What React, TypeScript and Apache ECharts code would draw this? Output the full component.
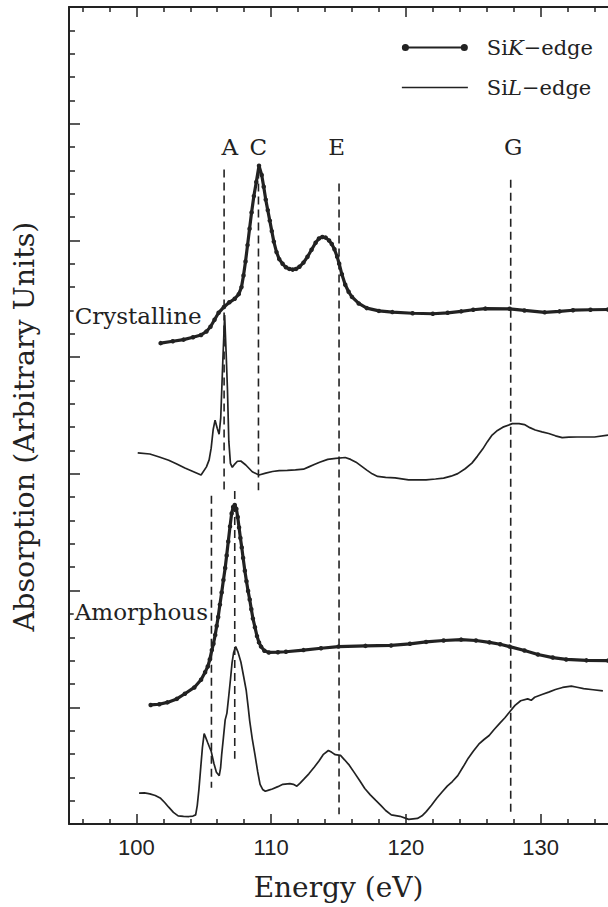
import React, { useEffect, useRef } from 'react';
import * as echarts from 'echarts';

// ---- data (energy in eV, absorption in arbitrary offset units) ----
const crystallineK: [number, number][] = [
  [101.8, 20.6], [102.7, 20.68], [103.5, 20.75], [104.2, 20.85], [104.8, 20.95], [105.2, 21.1], [105.5, 21.3],
  [105.8, 21.6], [106.1, 21.9], [106.5, 22.15], [106.9, 22.35], [107.3, 22.5], [107.6, 22.7], [107.8, 23.0],
  [107.95, 23.5], [108.1, 24.1], [108.25, 24.8], [108.4, 25.5], [108.55, 26.2], [108.72, 26.9], [108.9, 27.5],
  [109.1, 28.2], [109.3, 27.8], [109.45, 27.3], [109.6, 26.75], [109.75, 26.3], [109.9, 25.85], [110.05, 25.4],
  [110.2, 24.95], [110.4, 24.5], [110.6, 24.2], [110.85, 24.0], [111.1, 23.85], [111.35, 23.78], [111.6, 23.75],
  [111.85, 23.78], [112.1, 23.87], [112.4, 24.05], [112.7, 24.3], [113.0, 24.6], [113.3, 24.9], [113.55, 25.08],
  [113.8, 25.15], [114.05, 25.12], [114.3, 25.0], [114.5, 24.85], [114.7, 24.62], [114.9, 24.3], [115.05, 24.0],
  [115.25, 23.55], [115.5, 23.1], [115.75, 22.8], [116.0, 22.58], [116.5, 22.3], [117.1, 22.1], [118.0, 21.98],
  [119.0, 21.93], [120.5, 21.88], [122.0, 21.86], [123.1, 21.9], [124.1, 21.96], [125.0, 22.03], [125.9, 22.08],
  [127.7, 22.07], [128.8, 22.0], [130.3, 21.92], [131.4, 21.96], [132.4, 22.01], [133.7, 22.03], [135.0, 22.04]
];

const crystallineL: [number, number][] = [
  [100.1, 15.9], [101.0, 15.85], [101.7, 15.72], [102.4, 15.58], [103.0, 15.42], [103.6, 15.25], [104.2, 15.1],
  [104.8, 14.95], [105.2, 15.3], [105.4, 15.6], [105.55, 16.1], [105.7, 16.9], [105.84, 17.3], [106.0, 16.95],
  [106.14, 16.7], [106.26, 17.4], [106.4, 19.6], [106.55, 21.8], [106.66, 20.2], [106.76, 18.6], [106.86, 16.4],
  [106.98, 15.45], [107.12, 15.28], [107.3, 15.42], [107.5, 15.54], [107.75, 15.55], [108.12, 15.38],
  [108.6, 15.09], [109.1, 14.95], [109.6, 15.03], [110.1, 15.1], [110.6, 15.14], [111.2, 15.15], [111.8, 15.17],
  [112.4, 15.2], [112.8, 15.3], [113.2, 15.4], [113.6, 15.5], [114.2, 15.62], [114.8, 15.66], [115.5, 15.7],
  [115.9, 15.62], [116.3, 15.5], [116.7, 15.33], [117.1, 15.16], [117.5, 15.0], [117.9, 14.89], [118.5, 14.85],
  [119.2, 14.83], [120.2, 14.74], [121.5, 14.74], [122.2, 14.78], [122.8, 14.82], [123.35, 14.9],
  [123.85, 15.01], [124.4, 15.22], [124.9, 15.46], [125.3, 15.75], [125.7, 16.06], [126.05, 16.38],
  [126.4, 16.66], [126.8, 16.86], [127.2, 17.0], [127.9, 17.15], [128.4, 17.15], [128.8, 17.11], [129.2, 16.98],
  [129.6, 16.88], [130.1, 16.8], [130.6, 16.73], [131.1, 16.63], [131.6, 16.55], [132.1, 16.57], [132.7, 16.58],
  [133.3, 16.58], [134.0, 16.58], [135.0, 16.66]
];

const amorphousK: [number, number][] = [
  [101.06, 5.1], [101.7, 5.13], [102.3, 5.21], [103.0, 5.36], [103.6, 5.58], [104.3, 5.85], [104.8, 6.18],
  [105.1, 6.5], [105.3, 6.75], [105.45, 7.05], [105.6, 7.45], [105.72, 7.72], [105.85, 8.1], [105.96, 8.48],
  [106.07, 8.87], [106.2, 9.4], [106.33, 9.92], [106.46, 10.45], [106.59, 10.97], [106.7, 11.5], [106.82, 12.1],
  [106.95, 12.75], [107.07, 13.3], [107.18, 13.58], [107.3, 13.67], [107.42, 13.5], [107.52, 13.15],
  [107.62, 12.7], [107.72, 12.25], [107.82, 11.85], [107.92, 11.4], [108.05, 10.85], [108.17, 10.4],
  [108.29, 9.98], [108.41, 9.62], [108.53, 9.2], [108.65, 8.8], [108.8, 8.43], [108.95, 8.05], [109.1, 7.78],
  [109.25, 7.6], [109.5, 7.42], [109.83, 7.35], [110.5, 7.36], [111.1, 7.38], [112.4, 7.45], [113.7, 7.53],
  [115.0, 7.6], [117.0, 7.63], [118.9, 7.65], [120.3, 7.72], [121.5, 7.8], [122.8, 7.86], [124.1, 7.9],
  [125.2, 7.86], [126.2, 7.78], [127.0, 7.7], [127.7, 7.6], [128.8, 7.43], [129.8, 7.26], [130.9, 7.13],
  [131.9, 7.05], [133.4, 7.01], [135.0, 7.0]
];

const amorphousL: [number, number][] = [
  [100.2, 1.32], [100.6, 1.33], [101.0, 1.29], [101.4, 1.22], [101.8, 1.1], [102.1, 0.92], [102.4, 0.72],
  [102.75, 0.5], [103.1, 0.35], [103.5, 0.33], [103.9, 0.32], [104.2, 0.34], [104.4, 0.39], [104.52, 0.8],
  [104.64, 1.47], [104.78, 2.45], [104.9, 3.27], [105.03, 3.87], [105.15, 3.7], [105.29, 3.49], [105.42, 3.3],
  [105.55, 3.12], [105.75, 2.6], [105.94, 2.22], [106.15, 2.07], [106.25, 2.4], [106.33, 2.97], [106.46, 3.7],
  [106.59, 4.46], [106.72, 4.75], [106.85, 5.45], [106.98, 6.18], [107.1, 6.9], [107.22, 7.35], [107.37, 7.6],
  [107.55, 7.35], [107.76, 6.93], [107.95, 6.35], [108.15, 5.73], [108.3, 5.0], [108.41, 4.42], [108.6, 3.65],
  [108.8, 2.97], [109.0, 2.25], [109.18, 1.7], [109.37, 1.48], [109.57, 1.4], [109.82, 1.45], [110.09, 1.5],
  [110.5, 1.6], [110.87, 1.7], [111.39, 1.73], [111.65, 1.7], [111.91, 1.62], [112.15, 1.75], [112.43, 1.92],
  [112.8, 2.15], [113.21, 2.44], [113.55, 2.7], [113.86, 2.97], [114.25, 3.15], [114.5, 3.07], [114.76, 2.97],
  [115.15, 2.94], [115.45, 2.75], [115.8, 2.52], [116.2, 2.18], [116.58, 1.85], [116.95, 1.52], [117.36, 1.25],
  [117.75, 1.02], [118.14, 0.8], [118.5, 0.58], [118.92, 0.39], [119.56, 0.33], [120.21, 0.2], [120.86, 0.24],
  [121.2, 0.35], [121.51, 0.53], [121.9, 0.8], [122.29, 1.1], [122.7, 1.38], [123.07, 1.62], [123.45, 1.82],
  [123.85, 2.07], [124.25, 2.45], [124.63, 2.82], [125.0, 3.12], [125.41, 3.42], [125.8, 3.62], [126.18, 3.79],
  [126.55, 4.05], [126.96, 4.31], [127.35, 4.55], [127.74, 4.83], [128.1, 5.08], [128.52, 5.28], [129.04, 5.36],
  [129.3, 5.3], [129.56, 5.43], [130.1, 5.55], [130.6, 5.65], [131.1, 5.76], [131.63, 5.85], [132.28, 5.91],
  [132.7, 5.86], [133.19, 5.8], [133.9, 5.75], [134.62, 5.7]
];

// dashed guide lines: energy, upper end, lower end
const guideEnergies = [106.51, 109.06, 115.04, 127.78, 105.57, 107.3];
const guideTops = [28.04, 28.0, 27.44, 27.6, 14.06, 14.27];
const guideBottoms = [14.18, 14.3, 0.42, 0.35, 1.55, 2.8];

// peak letters
const peakLetters = ['A', 'C', 'E', 'G'];
const peakLetterEnergies = [106.93, 109.05, 114.86, 127.96];
const peakLetterLevel = 29.0;

// sample labels
const sampleNames = ['Crystalline', 'Amorphous'];
const sampleNameEnergies = [95.35, 95.35];
const sampleNameLevels = [21.76, 9.09];

// axis ticks
const xMajorTicks = [100, 110, 120, 130];
const xMinorTicks = [96, 98, 102, 104, 106, 108, 112, 114, 116, 118, 122, 124, 126, 128, 132, 134];

const K_NAME = 'SiK−edge';
const L_NAME = 'SiL−edge';

const INK = '#222';
const SERIF = '"DejaVu Serif", "Liberation Serif", serif';
const SANS = '"Liberation Sans", Arial, sans-serif';

export default function App() {
  const ref = useRef<HTMLDivElement>(null);

  useEffect(() => {
    if (!ref.current) return;
    const chart = echarts.init(ref.current, undefined, { renderer: 'svg' });

    const kIcon =
      'path://M0.5,4a3.5,3.5 0 1,1 7,0a3.5,3.5 0 1,1 -7,0z M7,3 H59 V5 H7 Z M58.5,4a3.5,3.5 0 1,1 7,0a3.5,3.5 0 1,1 -7,0z';
    const lIcon = 'path://M0,0 H66 V1.5 H0 Z';

    const baseX = {
      type: 'value' as const,
      min: 95,
      max: 135,
      gridIndex: 0,
      splitLine: { show: false },
    };

    const xAxes = [
      {
        ...baseX,
        position: 'bottom',
        axisLine: { show: true, lineStyle: { color: INK, width: 2 } },
        axisTick: { show: true, inside: true, length: 10, customValues: xMajorTicks, lineStyle: { color: INK, width: 1.5 } },
        axisLabel: {
          show: true,
          customValues: xMajorTicks,
          margin: 12,
          color: '#222',
          fontSize: 22,
          fontFamily: SANS,
        },
        name: 'Energy (eV)',
        nameLocation: 'middle',
        nameGap: 49,
        nameTextStyle: { fontFamily: SERIF, fontSize: 28, color: '#222' },
      },
      {
        ...baseX,
        position: 'bottom',
        axisLine: { show: false },
        axisTick: { show: true, inside: true, length: 5, customValues: xMinorTicks, lineStyle: { color: INK, width: 1.5 } },
        axisLabel: { show: false },
      },
      {
        ...baseX,
        position: 'top',
        axisLine: { show: true, lineStyle: { color: INK, width: 2 } },
        axisTick: { show: true, inside: true, length: 10, customValues: xMajorTicks, lineStyle: { color: INK, width: 1.5 } },
        axisLabel: { show: false },
      },
      {
        ...baseX,
        position: 'top',
        axisLine: { show: false },
        axisTick: { show: true, inside: true, length: 5, customValues: xMinorTicks, lineStyle: { color: INK, width: 1.5 } },
        axisLabel: { show: false },
      },
    ];

    const guideSeries = guideEnergies.map((e, i) => ({
      type: 'line' as const,
      name: 'guide' + i,
      xAxisIndex: 0,
      yAxisIndex: 0,
      data: [
        [e, guideTops[i]],
        [e, guideBottoms[i]],
      ],
      symbol: 'none',
      silent: true,
      z: 1,
      lineStyle: { color: INK, width: 1.6, type: [8, 5] as any },
    }));

    const textSeries = {
      type: 'custom' as const,
      name: 'texts',
      xAxisIndex: 0,
      yAxisIndex: 0,
      silent: true,
      z: 5,
      data: [
        ...peakLetterEnergies.map((e) => [e, peakLetterLevel]),
        ...sampleNameEnergies.map((e, i) => [e, sampleNameLevels[i]]),
      ],
      renderItem: (params: any, api: any) => {
        const idx = params.dataIndex;
        const p = api.coord([api.value(0), api.value(1)]);
        if (idx < peakLetters.length) {
          return {
            type: 'text',
            x: p[0],
            y: p[1],
            style: {
              text: peakLetters[idx],
              fill: '#222',
              font: `23px ${SERIF}`,
              align: 'center',
              verticalAlign: 'middle',
            },
          };
        }
        const j = idx - peakLetters.length;
        return {
          type: 'text',
          x: p[0],
          y: p[1],
          style: {
            text: sampleNames[j],
            fill: '#222',
            font: `23px ${SERIF}`,
            align: 'left',
            verticalAlign: 'middle',
            backgroundColor: '#fff',
            padding: [0, 1, 0, 1],
          },
        };
      },
    };

    const option: any = {
      animation: false,
      backgroundColor: '#fff',
      grid: {
        left: 69,
        right: 0,
        top: 7,
        bottom: 83,
        containLabel: false,
        outerBoundsMode: 'none',
      },
      legend: {
        orient: 'vertical',
        right: 10,
        top: 32,
        align: 'left',
        itemGap: 19,
        itemWidth: 66,
        itemHeight: 8,
        selectedMode: false,
        data: [
          { name: K_NAME, icon: kIcon },
          { name: L_NAME, icon: lIcon },
        ],
        formatter: (name: string) =>
          name === K_NAME ? '{f|Si}{i|K}{r|−edge}' : '{f|Si}{i|L}{r|−edge}',
        textStyle: {
          fontFamily: SERIF,
          fontSize: 21,
          color: '#222',
          rich: {
            f: { fontFamily: SERIF, fontSize: 21, color: '#222', padding: [0, 0, 0, 14] },
            i: { fontFamily: SERIF, fontSize: 21, color: '#222', fontStyle: 'italic' },
            r: { fontFamily: SERIF, fontSize: 21, color: '#222' },
          },
        },
      },
      xAxis: xAxes,
      yAxis: {
        type: 'value',
        min: 0,
        max: 35,
        interval: 5,
        position: 'left',
        axisLine: { show: true, lineStyle: { color: INK, width: 2 } },
        axisTick: { show: true, inside: true, length: 11, lineStyle: { color: INK, width: 1.5 } },
        minorTick: { show: true, splitNumber: 5, length: 6, lineStyle: { color: INK, width: 1.5 } },
        axisLabel: { show: false },
        splitLine: { show: false },
        minorSplitLine: { show: false },
        name: 'Absorption (Arbitrary Units)',
        nameLocation: 'middle',
        nameGap: 30,
        nameTextStyle: { fontFamily: SERIF, fontSize: 28.5, color: '#222', padding: [0, 22, 0, 0] },
      },
      series: [
        ...guideSeries,
        {
          type: 'line',
          name: K_NAME,
          data: crystallineK,
          symbol: 'circle',
          symbolSize: 4.5,
          showSymbol: true,
          z: 3,
          color: INK,
          itemStyle: { color: INK },
          lineStyle: { color: INK, width: 3.2 },
        },
        {
          type: 'line',
          name: L_NAME,
          data: crystallineL,
          symbol: 'none',
          z: 3,
          color: INK,
          itemStyle: { color: INK },
          lineStyle: { color: INK, width: 1.7 },
        },
        {
          type: 'line',
          name: K_NAME,
          data: amorphousK,
          symbol: 'circle',
          symbolSize: 4.5,
          showSymbol: true,
          z: 3,
          color: INK,
          itemStyle: { color: INK },
          lineStyle: { color: INK, width: 3.2 },
        },
        {
          type: 'line',
          name: L_NAME,
          data: amorphousL,
          symbol: 'none',
          z: 3,
          color: INK,
          itemStyle: { color: INK },
          lineStyle: { color: INK, width: 1.7 },
        },
        textSeries,
      ],
    };

    chart.setOption(option);
    return () => {
      chart.dispose();
    };
  }, []);

  return (
    <div
      ref={ref}
      style={{ position: 'absolute', left: 0, top: 0, width: 608, height: 907, background: '#fff' }}
    />
  );
}
